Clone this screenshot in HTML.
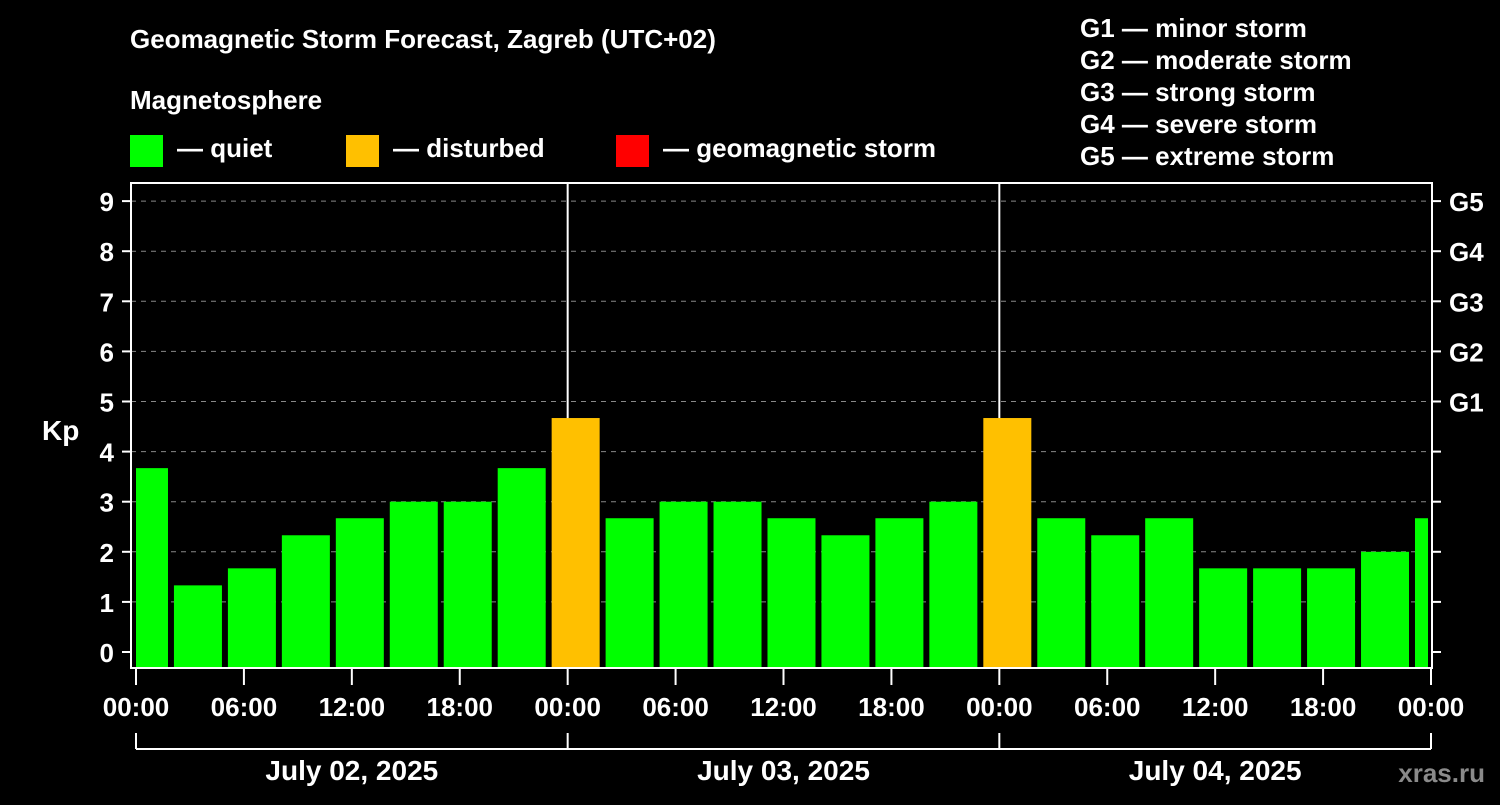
<!DOCTYPE html>
<html><head><meta charset="utf-8"><style>
body{margin:0;background:#000;width:1500px;height:800px;overflow:hidden}
svg text{font-family:"Liberation Sans",sans-serif;font-weight:bold;fill:#fff}
</style></head><body>
<svg id="c" width="1500" height="800">
<text x="130" y="48" font-size="26">Geomagnetic Storm Forecast, Zagreb (UTC+02)</text>
<text x="130" y="109" font-size="26">Magnetosphere</text>
<rect x="130" y="135" width="33" height="32" fill="#00ff00"/>
<text x="177" y="157" font-size="26">— quiet</text>
<rect x="346" y="135" width="33" height="32" fill="#ffc000"/>
<text x="393" y="157" font-size="26">— disturbed</text>
<rect x="616" y="135" width="33" height="32" fill="#ff0000"/>
<text x="663" y="157" font-size="26">— geomagnetic storm</text>
<g font-size="26">
<text x="1080" y="37">G1 — minor storm</text>
<text x="1080" y="69">G2 — moderate storm</text>
<text x="1080" y="101">G3 — strong storm</text>
<text x="1080" y="133">G4 — severe storm</text>
<text x="1080" y="165">G5 — extreme storm</text>
</g>
<text x="42" y="440" font-size="28">Kp</text>
<text x="1485" y="782" font-size="26" text-anchor="end" fill="#888" style="fill:#8a8a8a">xras.ru</text>
<g id="plot"></g>
</svg>
<script>
const kpValues=[3.67,1.33,1.67,2.33,2.67,3,3,3.67,4.67,2.67,3,3,2.67,2.33,2.67,3,4.67,2.67,2.33,2.67,1.67,1.67,1.67,2,2.67];
const yTicks=[0,1,2,3,4,5,6,7,8,9];
const gLabels=["G1","G2","G3","G4","G5"];
const xTickLabels=["00:00","06:00","12:00","18:00","00:00","06:00","12:00","18:00","00:00","06:00","12:00","18:00","00:00"];
const dayLabels=["July 02, 2025","July 03, 2025","July 04, 2025"];
const NS="http://www.w3.org/2000/svg";
const g=document.getElementById('plot');
const L=131,R=1432,T=183,B=668;
const x=h=>136+h*(1431-136)/72;
const y=v=>652-v*50.1;
function mk(t,a,p){const e=document.createElementNS(NS,t);for(const k in a)e.setAttribute(k,a[k]);(p||g).appendChild(e);return e;}
yTicks.forEach(v=>{
 if(v>0){const gl=mk('line',{x1:L,x2:R,y1:y(v),y2:y(v),stroke:'#888','stroke-dasharray':'5,5','stroke-width':1});
 
 }
 const t=mk('line',{x1:122,x2:L,y1:y(v),y2:y(v),stroke:'#fff','stroke-width':2});
 
 
 const lb=mk('text',{x:114,y:y(v)+10,'font-size':26,'text-anchor':'end'});lb.textContent=v;
 
 
 const rt=mk('line',{x1:R,x2:1441,y1:y(v),y2:y(v),stroke:'#fff','stroke-width':2});
 
 
});
gLabels.forEach((s,i)=>{const t=mk('text',{x:1449,y:y(5+i)+10,'font-size':26});t.textContent=s;
 
 });
[24,48].forEach(h=>{const d=mk('line',{x1:x(h),x2:x(h),y1:T,y2:B,stroke:'#fff','stroke-width':2});
 
 });
mk('clipPath',{id:'cl'});document.getElementById('cl').appendChild(document.createElementNS(NS,'rect'));
const cr=document.querySelector('#cl rect');cr.setAttribute('x',136);cr.setAttribute('y',T);cr.setAttribute('width',1428-136);cr.setAttribute('height',B-T);
kpValues.forEach((v,k)=>{const c=x(3*k+0.444);
 const col=v>=5?'#ff0000':(v>=4?'#ffc000':'#00ff00');
 const b=mk('rect',{x:c-24,y:y(v),width:48,height:B-y(v),fill:col,'clip-path':'url(#cl)'});
 
 });
const fr=mk('rect',{x:L,y:T,width:R-L,height:B-T,fill:'none',stroke:'#fff','stroke-width':2});


xTickLabels.forEach((s,i)=>{const h=i*6;
 const t=mk('line',{x1:x(h),x2:x(h),y1:B,y2:685,stroke:'#fff','stroke-width':2});
 
 
 const lb=mk('text',{x:x(h),y:716,'font-size':26,'text-anchor':'middle'});lb.textContent=s;
 
 });
const br=mk('line',{x1:x(0),x2:x(72),y1:749,y2:749,stroke:'#fff','stroke-width':2});


[0,24,48,72].forEach(h=>{const t=mk('line',{x1:x(h),x2:x(h),y1:733,y2:749,stroke:'#fff','stroke-width':2});
 
 });
dayLabels.forEach((s,i)=>{const t=mk('text',{x:x(24*i+12),y:780,'font-size':28,'text-anchor':'middle'});t.textContent=s;
 
 });
</script>
</body></html>
